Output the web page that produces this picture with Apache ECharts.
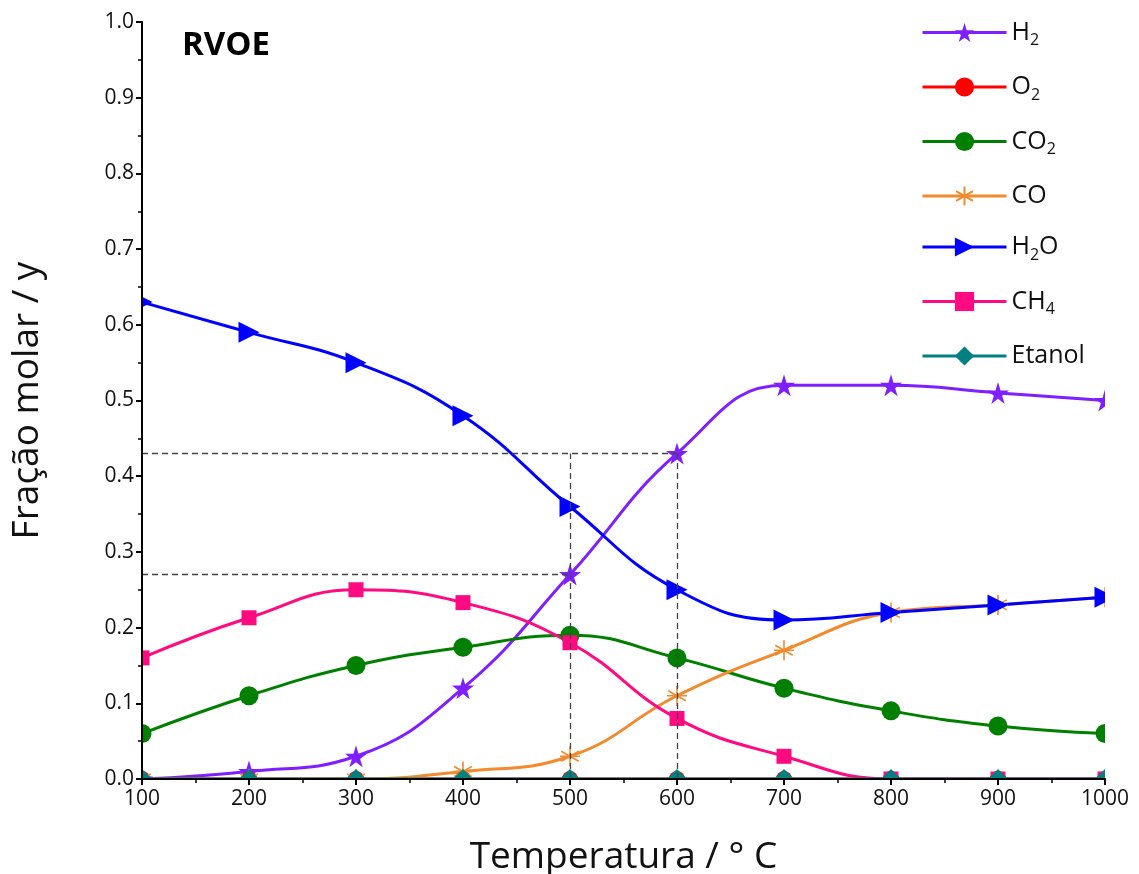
<!DOCTYPE html>
<html><head><meta charset="utf-8">
<script src="https://cdn.jsdelivr.net/npm/echarts@6/dist/echarts.min.js"></script>
<style>html,body{margin:0;padding:0;background:#fff}#c{width:1139px;height:874px}</style>
</head><body><div id="c"></div>
<script>
const temps = [100,200,300,400,500,600,700,800,900,1000];
const H2 = [0.0,0.01,0.03,0.12,0.27,0.43,0.52,0.52,0.51,0.50];
const O2 = [0,0,0,0,0,0,0,0,0,0];
const CO2 = [0.06,0.11,0.15,0.174,0.19,0.16,0.12,0.09,0.07,0.06];
const CO = [0.0,0.0,0.0,0.01,0.03,0.11,0.17,0.22,0.23,0.24];
const H2O = [0.63,0.59,0.55,0.48,0.36,0.25,0.21,0.22,0.23,0.24];
const CH4 = [0.16,0.213,0.25,0.233,0.18,0.08,0.03,0.0,0.0,0.0];
const Etanol = [0,0,0,0,0,0,0,0,0,0];
const guideX = [500,600];
const guideY = [0.27,0.43];

const star = 'path://M50,0 L61,35 L98,35 L68,57 L79,91 L50,70 L21,91 L32,57 L2,35 L39,35 Z';
const aster = 'path://M50,0 L50,100 M6,25 L94,75 M94,25 L6,75 M0,50 L100,50';
const pair = a => temps.map((t,i)=>[t,a[i]]);
const legendNames = {'H2':'H{s|2}','O2':'O{s|2}','CO2':'CO{s|2}','CO':'CO','H2O':'H{s|2}O','CH4':'CH{s|4}','Etanol':'Etanol'};

function mk(name, data, color, symbol, size, extra){
  return Object.assign({
    name, type:'line', data:pair(data), smooth:0.45, symbol, symbolSize:size,
    lineStyle:{color, width:3}, itemStyle:{color}, z:3
  }, extra||{});
}
const chart = echarts.init(document.getElementById('c'));
chart.setOption({
  animation:false,
  title:{text:'RVOE', left:177, top:24, z:20, textStyle:{fontFamily:'Open Sans', fontWeight:'bold', fontSize:33, color:'#000'}},
  grid:{left:142, right:34, top:22, bottom:95, outerBoundsMode:'none'},
  legend:{
    orient:'vertical', left:916, top:15, itemWidth:84, itemHeight:24, itemGap:26, z:20,
    lineStyle:{width:3},
    formatter: n => legendNames[n],
    textStyle:{fontFamily:'Open Sans', fontSize:25, color:'#111',
      rich:{s:{fontFamily:'Open Sans', fontSize:16, color:'#111', padding:[16,0,0,0]}}}
  },
  xAxis:{type:'value', min:100, max:1000, interval:100, z:10,
    name:'Temperatura / ° C', nameLocation:'middle', nameGap:60,
    nameTextStyle:{fontFamily:'Open Sans', fontSize:37, color:'#111'},
    axisLine:{lineStyle:{color:'#000', width:2}},
    axisTick:{length:6, lineStyle:{color:'#000', width:2}},
    minorTick:{show:true, splitNumber:2, length:4, lineStyle:{color:'#000', width:1.5}},
    axisLabel:{fontFamily:'Open Sans', fontSize:21, color:'#111', margin:10, formatter:v=>String(v)},
    splitLine:{show:false}},
  yAxis:{type:'value', min:0, max:1.0, interval:0.1, z:10,
    name:'Fração molar / y', nameLocation:'middle', nameGap:96,
    nameTextStyle:{fontFamily:'Open Sans', fontSize:37, color:'#111'},
    axisLine:{show:true, lineStyle:{color:'#000', width:2}},
    axisTick:{show:true, length:6, lineStyle:{color:'#000', width:2}},
    minorTick:{show:true, splitNumber:2, length:4, lineStyle:{color:'#000', width:1.5}},
    axisLabel:{fontFamily:'Open Sans', fontSize:21, color:'#111', margin:8, formatter:v=>v.toFixed(1)},
    splitLine:{show:false}},
  series:[
    mk('H2', H2, '#7f1fff', star, 22, {
      markLine:{silent:true, symbol:'none', label:{show:false},
        lineStyle:{color:'#444', type:[6,4], width:1.3},
        data:[
          [{coord:[100,guideY[0]]},{coord:[guideX[0],guideY[0]]}],
          [{coord:[100,guideY[1]]},{coord:[guideX[1],guideY[1]]}],
          [{coord:[guideX[0],0]},{coord:[guideX[0],guideY[1]]}],
          [{coord:[guideX[1],0]},{coord:[guideX[1],guideY[1]]}]
        ]}}),
    mk('O2', O2, '#ff0000', 'circle', 16),
    mk('CO2', CO2, '#007f00', 'circle', 19),
    mk('CO', CO, '#f28a2e', aster, 20, {itemStyle:{color:'rgba(0,0,0,0)', borderColor:'#f28a2e', borderWidth:1.6}}),
    mk('H2O', H2O, '#0000ff', 'triangle', 21, {symbolRotate:-90}),
    mk('CH4', CH4, '#ff0a80', 'rect', 15),
    mk('Etanol', Etanol, '#008080', 'diamond', 20)
  ]
});
// white masks outside the plotting area (clip markers at the frame edges, like the original)
const p0 = chart.convertToPixel({gridIndex:0}, [temps[0], 0]);
const p1 = chart.convertToPixel({gridIndex:0}, [temps[temps.length-1], 1]);
const W = chart.getWidth(), H = chart.getHeight();
chart.setOption({graphic:[
  {type:'rect', z:5, silent:true, shape:{x:0, y:0, width:p0[0], height:H}, style:{fill:'#fff'}},
  {type:'rect', z:5, silent:true, shape:{x:0, y:p0[1], width:W, height:H-p0[1]}, style:{fill:'#fff'}},
  {type:'rect', z:5, silent:true, shape:{x:p1[0], y:0, width:W-p1[0], height:H}, style:{fill:'#fff'}}
]});
</script></body></html>
